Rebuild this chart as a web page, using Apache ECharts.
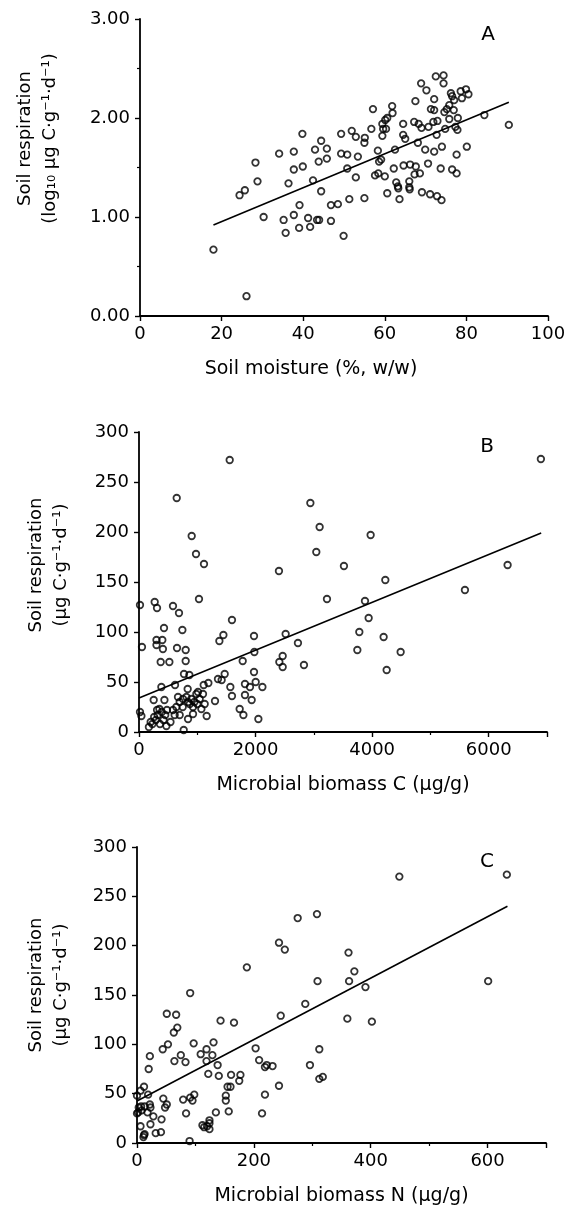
<!DOCTYPE html>
<html><head><meta charset="utf-8">
<script src="https://cdn.jsdelivr.net/npm/echarts@6/dist/echarts.min.js"></script>
<style>html,body{margin:0;padding:0;background:#fff}#c{width:576px;height:1219px}</style>
</head><body><div id="c"></div>
<script>
// ---- Panel A: soil moisture (%) vs log10 soil respiration ----
const moistureA = [18.0,26.1,24.4,25.7,28.3,28.8,30.3,34.1,35.2,35.7,36.4,37.7,37.7,37.7,39.0,39.1,39.8,39.9,41.2,41.7,42.4,42.9,43.4,43.9,43.8,44.4,44.4,45.8,45.8,46.8,46.8,48.5,49.3,49.3,49.9,50.8,50.8,51.3,51.9,52.9,52.9,53.4,55.0,55.0,55.1,
  57.1,56.7,58.3,58.6,59.1,57.6,58.4,60.0,60.6,59.4,59.6,59.4,60.1,60.6,60.3,61.8,61.9,62.2,62.5,62.8,63.2,63.3,63.6,64.5,64.5,65.0,64.6,66.2,66.0,66.0,66.1,67.2,67.5,67.6,67.3,68.1,68.3,68.6,69.0,68.9,69.1,70.2,69.9,70.7,70.6,71.1,71.3,72.1,72.1,72.1,71.9,72.7,72.9,72.5,72.8,73.7,74.0,73.9,74.4,74.4,74.6,74.8,75.2,75.8,75.8,76.5,76.5,76.9,77.3,77.6,77.6,77.9,78.6,78.9,79.9,80.1,80.5,84.4,90.4,76.2,77.0,77.8];
const respA = [0.67,0.20,1.22,1.27,1.55,1.36,1.00,1.64,0.97,0.84,1.34,1.66,1.48,1.02,0.89,1.12,1.84,1.51,0.99,0.90,1.37,1.68,0.97,0.97,1.56,1.77,1.26,1.69,1.59,0.96,1.12,1.13,1.64,1.84,0.81,1.63,1.49,1.18,1.87,1.81,1.40,1.61,1.19,1.75,1.80,
  2.09,1.89,1.67,1.56,1.58,1.42,1.44,1.41,1.24,1.82,1.89,1.94,1.98,2.00,1.89,2.12,2.05,1.49,1.68,1.35,1.31,1.29,1.18,1.94,1.83,1.79,1.52,1.53,1.36,1.30,1.28,1.96,2.17,1.51,1.43,1.75,1.94,1.44,1.90,2.35,1.25,2.28,1.68,1.91,1.54,1.23,2.09,2.19,2.08,1.66,1.96,1.83,1.97,2.42,1.21,1.49,1.71,1.17,2.43,2.35,2.06,1.89,2.09,1.99,2.13,1.48,2.22,2.08,1.91,1.44,1.63,2.00,2.27,2.20,2.29,1.71,2.24,2.03,1.93,2.25,2.18,1.88];
const fitAx = [18, 90.4];
const fitAy = [0.92, 2.16];

// ---- Panel B: microbial biomass C vs soil respiration ----
const biomassCB = [1556,647,904,978,1115,2401,1029,17,269,309,583,686,1595,429,744,2516,2727,51,1973,1448,1379,300,400,300,410,652,801,1979,372,521,801,1779,2465,2465,2408,772,864,384,618,835,1110,1190,1355,1418,1470,1567,1595,1818,1904,1973,2002,2117,1818,1933,1727,1791,2048,1304,1161,767,17,41,252,436,350,
  170,230,290,320,390,450,480,540,260,360,420,200,310,470,
  583,641,698,669,755,813,841,898,927,984,1012,1041,1098,1127,1070,841,927,698,612,750,870,950,1000,
  6895,2940,3099,3042,3974,3516,4226,3225,3877,3940,3780,4197,3746,4489,4249,2830,5592,6324];
const respB = [272,234,196,178,168,161,133,127,130,124,126,119,112,104,102,98,89,85,96,97,91,92,92,87,83,84,82,80,70,70,71,71,76,65,70,58,57,45,47,43,47,49,53,52,58,45,36,48,45,60,50,45,37,32,23,17,13,31,16,2,20,16,32,32,23,
  5,8,12,17,20,17,22,10,15,8,12,10,22,6,
  22,25,30,35,33,35,30,33,25,38,40,33,38,28,23,13,18,17,17,25,28,30,28,
  273,229,205,180,197,166,152,133,131,114,100,95,82,80,62,67,142,167];
const fitBx = [0, 6900];
const fitBy = [34, 199];

// ---- Panel C: microbial biomass N vs soil respiration ----
const biomassNC = [275,243,253,188,91,51,67,69,63,246,143,166,97,131,53,44,119,109,129,22,75,64,83,119,203,20,138,209,219,222,232,122,140,161,177,175,155,160,243,12,0,6,19,219,152,45,79,91,98,95,152,51,48,
  3,7,13,22,23,0,2,8,18,28,
  84,135,157,214,42,6,23,32,41,11,13,12,
  112,115,120,124,124,124,90,
  633,449,308,362,372,309,363,391,601,288,360,402,312,296,312,318];
const respC = [228,203,196,178,152,131,130,117,112,129,124,122,101,102,100,95,95,90,89,88,89,83,82,83,96,75,79,84,77,79,78,70,68,69,69,63,57,57,58,57,48,53,49,49,48,45,44,46,49,43,43,39,36,
  36,37,37,39,36,30,31,33,31,27,
  30,31,32,30,24,17,19,10,11,6,9,8,
  18,16,17,20,14,23,2,
  272,270,232,193,174,164,164,158,164,141,126,123,95,79,65,67];
const fitCx = [0, 634];
const fitCy = [42.5, 240];

const panelLabels = ['A', 'B', 'C'];
const xTitles = ['Soil moisture (%, w/w)', 'Microbial biomass C (\u00b5g/g)', 'Microbial biomass N (\u00b5g/g)'];
const yTitles = ['Soil respiration\n(log\u2081\u2080 \u00b5g C\u00b7g\u207b\u00b9\u00b7d\u207b\u00b9)',
                 'Soil respiration\n(\u00b5g C\u00b7g\u207b\u00b9\u00b7d\u207b\u00b9)',
                 'Soil respiration\n(\u00b5g C\u00b7g\u207b\u00b9\u00b7d\u207b\u00b9)'];

const zip = (a, b) => a.map((v, i) => [v, b[i]]);
const FONT = 'DejaVu Sans';

const grids = [
  {left: 140, top: 19, width: 408, height: 297},
  {left: 139, top: 432, width: 408, height: 300},
  {left: 137, top: 847, width: 409, height: 296}
];

function baseAxis() {
  return {
    axisLine: {show: true, onZero: false, lineStyle: {color: '#000', width: 1.8}},
    axisTick: {show: true, inside: false, length: 5, lineStyle: {color: '#000', width: 1.4}},
    splitLine: {show: false},
    axisLabel: {color: '#000', fontFamily: FONT, fontSize: 18, formatter: v => String(v)},
    nameTextStyle: {color: '#000', fontFamily: FONT}
  };
}

const xAxes = [
  Object.assign(baseAxis(), {gridIndex: 0, type: 'value', min: 0, max: 100, interval: 20}),
  Object.assign(baseAxis(), {gridIndex: 1, type: 'value', min: 0, max: 7000, interval: 2000,
    minorTick: {show: true, splitNumber: 2, length: 3, lineStyle: {color: '#000', width: 1.2}}}),
  Object.assign(baseAxis(), {gridIndex: 2, type: 'value', min: 0, max: 700, interval: 200,
    minorTick: {show: true, splitNumber: 2, length: 3, lineStyle: {color: '#000', width: 1.2}}})
];
xAxes.forEach((ax, i) => {
  ax.position = 'bottom';
  ax.name = xTitles[i];
  ax.nameLocation = 'middle';
  ax.nameGap = 44;
  ax.nameTextStyle = {color: '#000', fontFamily: FONT, fontSize: 19, padding: i === 0 ? [0, 66, 0, 0] : 0};
  ax.axisLabel.margin = 9;
  if (i > 0) ax.axisLabel.showMaxLabel = false;
});

const yAxes = [
  Object.assign(baseAxis(), {gridIndex: 0, type: 'value', min: 0, max: 3, interval: 1,
    minorTick: {show: true, splitNumber: 2, length: 3, lineStyle: {color: '#000', width: 1.2}}}),
  Object.assign(baseAxis(), {gridIndex: 1, type: 'value', min: 0, max: 300, interval: 50}),
  Object.assign(baseAxis(), {gridIndex: 2, type: 'value', min: 0, max: 300, interval: 50})
];
const yGaps = [77, 65, 63];
const yShift = [58, 34, 20];
yAxes.forEach((ax, i) => {
  ax.position = 'left';
  ax.name = yTitles[i];
  ax.nameLocation = 'middle';
  ax.nameRotate = 90;
  ax.nameGap = yGaps[i];
  ax.nameTextStyle = {color: '#000', fontFamily: FONT, fontSize: 18, lineHeight: 25, padding: [0, 0, 0, yShift[i]]};
  ax.axisLabel.margin = 10;
  if (i === 0) ax.axisLabel.formatter = v => v.toFixed(2);
});

const scatterStyle = {color: 'rgba(0,0,0,0)', borderColor: '#000', borderWidth: 1.8};
const pts = [zip(moistureA, respA), zip(biomassCB, respB), zip(biomassNC, respC)];
const fits = [zip(fitAx, fitAy), zip(fitBx, fitBy), zip(fitCx, fitCy)];
const series = [];
for (let i = 0; i < 3; i++) {
  series.push({type: 'scatter', xAxisIndex: i, yAxisIndex: i, data: pts[i],
    symbol: 'circle', symbolSize: 6.5, itemStyle: scatterStyle, silent: true});
  series.push({type: 'line', xAxisIndex: i, yAxisIndex: i, data: fits[i],
    showSymbol: false, symbol: 'none', lineStyle: {color: '#000', width: 1.6}, silent: true});
}

const labelPos = [[488, 35], [487, 447], [487, 862]];
const graphic = panelLabels.map((t, i) => ({
  type: 'text', x: labelPos[i][0], y: labelPos[i][1],
  style: {text: t, font: '20px "DejaVu Sans"', fill: '#000', align: 'center', verticalAlign: 'middle'}
}));

const chart = echarts.init(document.getElementById('c'), null, {renderer: 'canvas'});
chart.setOption({
  backgroundColor: '#fff',
  animation: false,
  grid: grids,
  xAxis: xAxes,
  yAxis: yAxes,
  series: series,
  graphic: graphic
});
</script></body></html>
